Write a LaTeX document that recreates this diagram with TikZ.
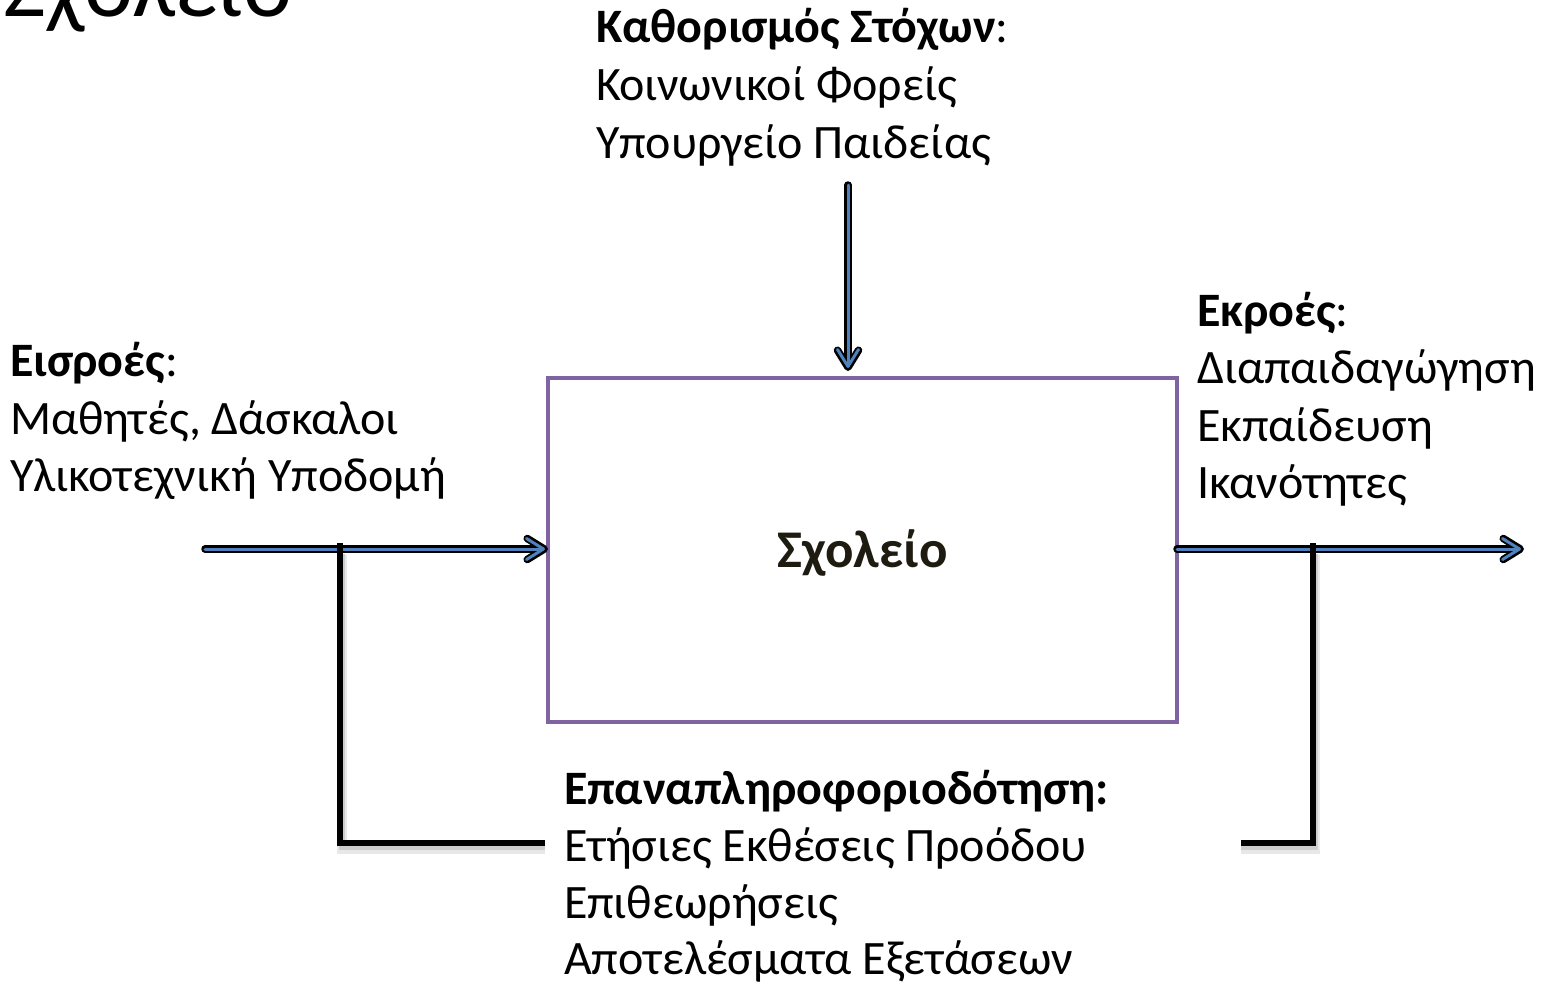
\documentclass[tikz,border=0pt]{standalone}
\usepackage{fontspec}
\setmainfont{Carlito}
\usetikzlibrary{arrows.meta}
\definecolor{flowblue}{HTML}{4F81BD}
\definecolor{boxpurple}{HTML}{8064A2}
\definecolor{labelink}{HTML}{1E1C11}
\tikzset{
  every node/.style={inner sep=0pt, outer sep=0pt},
  txt/.style={anchor=base west, font=\fontsize{48}{57}\selectfont},
  barb/.style={-{Straight Barb[length=17pt,width=21pt,line join=round,line cap=round]}},
  flowcase/.style={draw=black, line width=7.5pt, line cap=round, barb},
  flowcore/.style={draw=flowblue, line width=3pt, line cap=round, barb},
  fbline/.style={draw=black, line width=6pt},
  fbshadowA/.style={draw=black!9, line width=10pt},
  fbshadowB/.style={draw=black!20, line width=6pt},
  schoolbox/.style={draw=boxpurple, line width=4.5pt, minimum width=629pt, minimum height=344pt},
  schooltext/.style={font=\bfseries\fontsize{53}{60}\selectfont, text=labelink}
}
\begin{document}
\begin{tikzpicture}[x=1pt,y=-1pt]
\useasboundingbox (0,0) rectangle (1541,983);

% page title, partly cut off by the top edge
\node[anchor=base west, font=\fontsize{93}{104}\selectfont] (title) at (3,16) {Σχολείο};

% the system box
\node[schoolbox] (school) at (862.5,550) {};
\node[schooltext] (schoolname) at (862.5,553) {Σχολείο};

% goals (top)
\node[txt] (goal1) at (596,42) {\textbf{Καθορισμός Στόχων}:};
\node[txt] (goal2) at (596,100) {Κοινωνικοί Φορείς};
\node[txt] (goal3) at (596,158) {Υπουργείο Παιδείας};

% inputs (left)
\node[txt] (in1) at (10,376) {\textbf{Εισροές}:};
\node[txt] (in2) at (10,434) {Μαθητές, Δάσκαλοι};
\node[txt] (in3) at (10,491) {Υλικοτεχνική Υποδομή};

% outputs (right)
\node[txt] (out1) at (1197,326) {\textbf{Εκροές}:};
\node[txt] (out2) at (1197,383) {Διαπαιδαγώγηση};
\node[txt] (out3) at (1197,441) {Εκπαίδευση};
\node[txt] (out4) at (1197,498) {Ικανότητες};

% feedback (bottom)
\node[txt] (fb1) at (564,804) {\textbf{Επαναπληροφοριοδότηση:}};
\node[txt] (fb2) at (564,861) {Ετήσιες Εκθέσεις Προόδου};
\node[txt] (fb3) at (564,918) {Επιθεωρήσεις};
\node[txt] (fb4) at (564,974) {Αποτελέσματα Εξετάσεων};

% connector end points
\coordinate (goalIn) at (848,185);
\coordinate (inStart) at (205,549);
\coordinate (outEnd) at (1524,549);
\coordinate (tapL) at (339.5,543);
\coordinate (tapR) at (1313,543);
\coordinate (fbL) at (545,843);
\coordinate (fbR) at (1241,843);

% soft shadows of the feedback loops
\draw[fbshadowA] ([shift={(2,5)}]tapL |- school.center) |- ([shift={(0,6)}]fbL);
\draw[fbshadowA] ([shift={(2,5)}]tapR |- school.center) |- ([shift={(0,6)}]fbR);
\draw[fbshadowB] ([shift={(2,4)}]tapL |- school.center) |- ([shift={(0,4)}]fbL);
\draw[fbshadowB] ([shift={(2,4)}]tapR |- school.center) |- ([shift={(0,4)}]fbR);

% input, goal and output flows
\draw[flowcase, shorten >=7pt] (goalIn) -- (goalIn |- school.north);
\draw[flowcore, shorten >=10pt] (goalIn) -- (goalIn |- school.north);
\draw[flowcase] (inStart) -- (inStart -| school.west);
\draw[flowcore, shorten >=3pt] (inStart) -- (inStart -| school.west);
\draw[flowcase] (school.east |- outEnd) -- (outEnd);
\draw[flowcore, shorten >=3pt] (school.east |- outEnd) -- (outEnd);

% feedback loops
\draw[fbline] (tapL) |- (fbL);
\draw[fbline] (tapR) |- (fbR);
\end{tikzpicture}
\end{document}
